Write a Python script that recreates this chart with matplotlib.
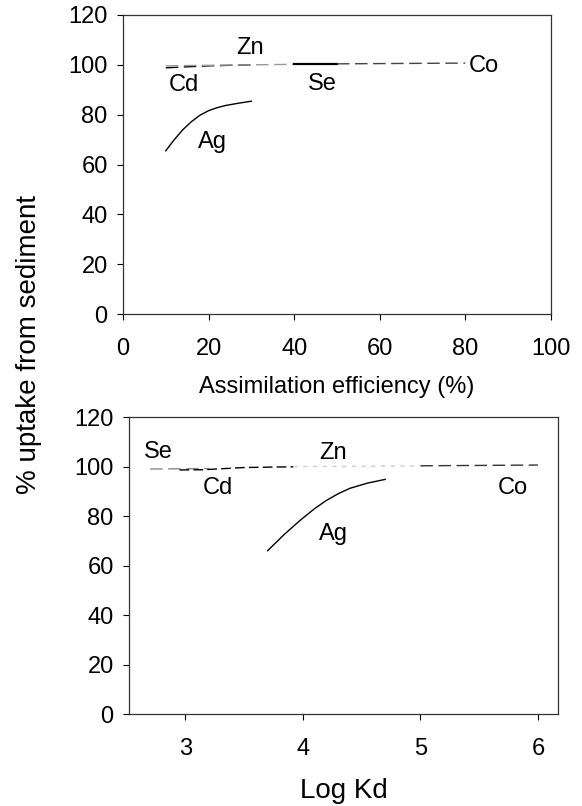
import matplotlib.pyplot as plt

plt.rcParams['font.family'] = ['Liberation Sans', 'DejaVu Sans']

# top panel: % uptake vs assimilation efficiency
ae_ag = [10, 12, 14, 16, 18, 20, 22, 24, 27, 30]
up_ag = [65.5, 70, 74, 77.2, 79.8, 81.6, 82.8, 83.7, 84.6, 85.4]
ae_cd = [10, 20, 30]
up_cd = [98.8, 99.6, 100]
ae_zn = [10, 40]
up_zn = [99.6, 100.2]
ae_se = [40, 50]
up_se = [100.4, 100.4]
ae_co = [50, 80]
up_co = [100.4, 100.7]

# bottom panel: % uptake vs log Kd
kd_ag = [3.70, 3.84, 3.98, 4.10, 4.20, 4.30, 4.40, 4.55, 4.70]
up_ag2 = [66, 72.5, 78.4, 83, 86.3, 89, 91.2, 93.3, 94.8]
kd_se = [2.7, 3.2]
up_se2 = [99.0, 99.2]
kd_cd = [2.95, 3.15, 3.5, 3.92]
up_cd2 = [98.6, 98.7, 99.6, 99.9]
kd_zn = [3.92, 5.0]
up_zn2 = [100, 100.2]
kd_co = [5.0, 6.0]
up_co2 = [100.3, 100.6]

fs = 17
dash = (0, (9, 4))

fig = plt.figure(figsize=(5.82, 8.06), dpi=100)
ax1 = fig.add_axes([0.2113, 0.6104, 0.7354, 0.371])
ax2 = fig.add_axes([0.2216, 0.1141, 0.737, 0.3685])

ax1.plot(ae_ag, up_ag, color='black', lw=1)
ax1.plot(ae_cd, up_cd, color='black', lw=1, ls=dash)
ax1.plot(ae_zn, up_zn, color='#999999', lw=1, ls=dash)
ax1.plot(ae_se, up_se, color='black', lw=1.6)
ax1.plot(ae_co, up_co, color='#444444', lw=1, ls=dash)
ax1.text(29.7, 106.7, 'Zn', fontsize=fs, ha='center', va='center')
ax1.text(14.3, 92, 'Cd', fontsize=fs, ha='center', va='center')
ax1.text(46.5, 92.5, 'Se', fontsize=fs, ha='center', va='center')
ax1.text(21, 69, 'Ag', fontsize=fs, ha='center', va='center')
ax1.text(84.3, 99.6, 'Co', fontsize=fs, ha='center', va='center')
ax1.set_xlim(0, 100)
ax1.set_ylim(0, 120)
ax1.set_xticks(range(0, 101, 20))
ax1.set_yticks(range(0, 121, 20))
ax1.set_xlabel('Assimilation efficiency (%)', fontsize=fs, labelpad=12)

ax2.plot(kd_ag, up_ag2, color='black', lw=1)
ax2.plot(kd_se, up_se2, color='#888888', lw=1, ls=dash)
ax2.plot(kd_cd, up_cd2, color='black', lw=1, ls=(0, (7, 3)))
ax2.plot(kd_zn, up_zn2, color='#cccccc', lw=1, ls=(0, (3, 4)))
ax2.plot(kd_co, up_co2, color='#333333', lw=1, ls=dash)
ax2.text(2.77, 106, 'Se', fontsize=fs, ha='center', va='center')
ax2.text(4.26, 105.5, 'Zn', fontsize=fs, ha='center', va='center')
ax2.text(3.28, 91.3, 'Cd', fontsize=fs, ha='center', va='center')
ax2.text(4.26, 72.7, 'Ag', fontsize=fs, ha='center', va='center')
ax2.text(5.79, 91.3, 'Co', fontsize=fs, ha='center', va='center')
ax2.set_xlim(2.52, 6.17)
ax2.set_ylim(0, 120)
ax2.set_xticks([3, 4, 5, 6])
ax2.set_yticks(range(0, 121, 20))
ax2.set_xlabel('Log Kd', fontsize=20, labelpad=13)

for ax in (ax1, ax2):
    ax.tick_params(labelsize=fs, length=4, width=0.8, direction='out')
    ax.tick_params(axis='x', pad=13)
    ax.tick_params(axis='y', pad=7)
    for sp in ax.spines.values():
        sp.set_linewidth(0.9)
        sp.set_color('#333333')

fig.text(0.05, 0.572, '% uptake from sediment', rotation=90, fontsize=20,
         ha='center', va='center')

fig.savefig('out.png', dpi=100)
